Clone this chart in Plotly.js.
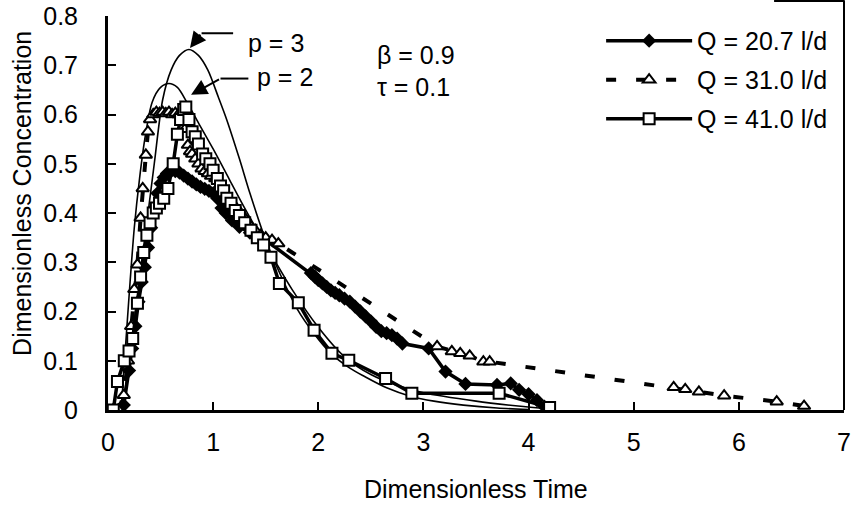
<!DOCTYPE html>
<html>
<head>
<meta charset="utf-8">
<script src="https://cdn.plot.ly/plotly-3.0.1.min.js"></script>
<style>html,body{margin:0;padding:0;background:#fff;}#chart{width:853px;height:511px;}</style>
</head>
<body>
<div id="chart"></div>
<script>
// Q = 20.7 l/d (diamonds)
const t207 = [0.05,0.10,0.15,0.20,0.23,0.26,0.29,0.32,0.35,0.38,0.41,0.44,0.47,0.50,0.53,0.56,0.60,0.64,0.68,0.72,0.76,0.80,0.84,0.88,0.92,0.96,1.00,1.04,1.08,1.12,1.18,1.25,1.35,1.50,1.93,1.97,2.00,2.04,2.08,2.12,2.16,2.20,2.25,2.30,2.35,2.40,2.45,2.50,2.55,2.60,2.65,2.70,2.75,2.80,3.05,3.21,3.40,3.70,3.83,3.91,4.00,4.08,4.15,4.19];
const c207 = [0,0,0.01,0.08,0.125,0.17,0.22,0.26,0.29,0.33,0.37,0.41,0.44,0.46,0.472,0.48,0.485,0.485,0.482,0.476,0.47,0.464,0.458,0.453,0.449,0.445,0.44,0.43,0.41,0.40,0.385,0.372,0.36,0.345,0.278,0.27,0.264,0.257,0.25,0.243,0.238,0.233,0.226,0.22,0.21,0.2,0.19,0.18,0.169,0.16,0.156,0.152,0.145,0.135,0.125,0.078,0.053,0.051,0.054,0.041,0.032,0.020,0.007,0.002];
// Q = 31.0 l/d (triangles)
const t310 = [0.10,0.15,0.19,0.22,0.25,0.28,0.31,0.33,0.36,0.38,0.40,0.43,0.46,0.49,0.52,0.55,0.58,0.61,0.64,0.67,0.70,0.73,0.76,0.78,0.80,0.83,0.86,0.89,0.92,0.95,0.98,1.02,1.06,1.10,1.14,1.18,1.22,1.26,1.30,1.35,1.40,1.45,1.50,1.56,1.62,3.13,3.27,3.35,3.44,3.57,3.63,5.38,5.49,5.62,5.86,6.36,6.62];
const c310 = [0,0.03,0.10,0.17,0.245,0.295,0.39,0.45,0.518,0.565,0.59,0.60,0.605,0.603,0.605,0.602,0.605,0.60,0.603,0.60,0.602,0.57,0.538,0.525,0.52,0.51,0.50,0.49,0.485,0.48,0.475,0.47,0.455,0.44,0.43,0.42,0.41,0.40,0.39,0.375,0.365,0.355,0.35,0.345,0.338,0.129,0.119,0.115,0.110,0.098,0.098,0.046,0.042,0.037,0.029,0.017,0.008];
// Q = 41.0 l/d (squares)
const t410 = [0.05,0.09,0.155,0.20,0.235,0.28,0.31,0.34,0.37,0.40,0.43,0.46,0.49,0.53,0.57,0.62,0.66,0.69,0.72,0.74,0.77,0.80,0.83,0.86,0.90,0.93,0.97,1.00,1.04,1.07,1.10,1.13,1.17,1.21,1.25,1.30,1.36,1.42,1.48,1.55,1.63,1.81,1.96,2.13,2.29,2.64,2.89,3.72,4.20];
const c410 = [0,0.058,0.10,0.12,0.145,0.217,0.27,0.32,0.355,0.38,0.40,0.41,0.42,0.43,0.45,0.50,0.56,0.59,0.61,0.615,0.59,0.565,0.555,0.54,0.52,0.51,0.50,0.487,0.47,0.455,0.445,0.43,0.42,0.405,0.395,0.38,0.365,0.35,0.335,0.31,0.257,0.218,0.162,0.115,0.101,0.064,0.034,0.034,0.005];
// Model curve p = 2
const tP2 = [0.10,0.12,0.15,0.18,0.21,0.25,0.30,0.35,0.42,0.50,0.58,0.66,0.75,0.86,1.00,1.15,1.30,1.50,1.75,2.00,2.25,2.50,2.75,3.00,3.50,3.90,4.20];
const cP2 = [0,0.005,0.08,0.17,0.26,0.37,0.47,0.55,0.625,0.655,0.663,0.655,0.625,0.583,0.53,0.47,0.41,0.335,0.245,0.168,0.108,0.072,0.05,0.035,0.018,0.008,0.002];
// Model curve p = 3
const tP3 = [0.10,0.15,0.20,0.25,0.30,0.36,0.44,0.52,0.60,0.68,0.77,0.86,0.95,1.05,1.13,1.25,1.35,1.50,1.65,1.80,1.96,2.12,2.30,2.44,2.65,2.89,3.10,3.38,3.70,4.00];
const cP3 = [0,0.03,0.10,0.18,0.27,0.365,0.50,0.63,0.69,0.72,0.732,0.72,0.69,0.635,0.589,0.51,0.44,0.345,0.27,0.205,0.155,0.115,0.085,0.068,0.045,0.027,0.018,0.010,0.004,0.001];

const seriesNames = ['Q = 20.7 l/d','Q = 31.0 l/d','Q = 41.0 l/d'];
const FONT = 'Liberation Sans, Arial, sans-serif';

const traces = [
  {x:tP2, y:cP2, mode:'lines', line:{color:'#000', width:1.6, shape:'spline', smoothing:0.8}, showlegend:false, hoverinfo:'skip'},
  {x:tP3, y:cP3, mode:'lines', line:{color:'#000', width:1.6, shape:'spline', smoothing:0.8}, showlegend:false, hoverinfo:'skip'},
  {x:t207, y:c207, name:seriesNames[0], legendgroup:'g1', mode:'lines+markers', line:{color:'#000', width:3.5},
   marker:{symbol:'diamond', size:11, color:'#000'}},
  {x:t310, y:c310, name:seriesNames[1], legendgroup:'g2', mode:'lines+markers', line:{color:'#000', width:4, dash:'10px,20px'},
   marker:{symbol:'triangle-up', size:11, color:'#fff', line:{color:'#000', width:2}}},
  {x:t410, y:c410, name:seriesNames[2], legendgroup:'g3', mode:'lines+markers', line:{color:'#000', width:3.5},
   marker:{symbol:'square', size:11, color:'#fff', line:{color:'#000', width:2}}}
];

const layout = {
  width:853, height:511,
  margin:{l:108, r:9, t:16, b:101},
  paper_bgcolor:'#fff', plot_bgcolor:'#fff',
  font:{family:FONT, size:25, color:'#000'},
  showlegend:true,
  legend:{x:0.67, y:0.995, xanchor:'left', yanchor:'top', bgcolor:'rgba(0,0,0,0)', font:{size:25}, itemwidth:86, tracegroupgap:3.5},
  xaxis:{range:[0,7], dtick:1, tick0:0, showgrid:false, zeroline:false, showline:true, linecolor:'#000', linewidth:3,
         ticks:'inside', ticklen:8, tickwidth:2, tickcolor:'#000', tickfont:{size:25}, ticklabelstandoff:8, ticklabeloverflow:'allow'},
  yaxis:{range:[0,0.8], dtick:0.1, tick0:0, showgrid:false, zeroline:false, showline:true, linecolor:'#000', linewidth:3,
         ticks:'inside', ticklen:8, tickwidth:2, tickcolor:'#000', tickfont:{size:25}, ticklabelstandoff:22,
         tickformat:'.1~f', ticklabeloverflow:'allow'},
  shapes:[
    {type:'line', xref:'paper', yref:'paper', x0:1, x1:1, y0:0, y1:1.04, line:{color:'#000', width:2}},
    {type:'line', xref:'paper', yref:'paper', x0:0.905, x1:1, y0:1.038, y1:1.038, line:{color:'#000', width:2}},
    {type:'line', xref:'x', yref:'y', x0:1.19, x1:0.89, y0:0.765, y1:0.765, line:{color:'#000', width:2}},
    {type:'line', xref:'x', yref:'y', x0:1.335, x1:1.07, y0:0.673, y1:0.673, line:{color:'#000', width:2}}
  ],
  annotations:[
    {xref:'paper', yref:'paper', x:0.5, y:-0.2, yanchor:'middle', text:'Dimensionless Time', showarrow:false, font:{size:25}},
    {xref:'paper', yref:'paper', x:-0.116, y:0.55, xanchor:'center', yanchor:'middle', text:'Dimensionless Concentration', textangle:-90, showarrow:false, font:{size:25}},
    {x:1.31, y:0.745, xanchor:'left', yanchor:'middle', text:'p = 3', showarrow:false, font:{size:25}},
    {x:1.40, y:0.676, xanchor:'left', yanchor:'middle', text:'p = 2', showarrow:false, font:{size:25}},
    {x:2.54, y:0.72, xanchor:'left', yanchor:'middle', text:'β = 0.9', showarrow:false, font:{size:25}},
    {x:2.54, y:0.656, xanchor:'left', yanchor:'middle', text:'τ = 0.1', showarrow:false, font:{size:25}},
    {x:0.78, y:0.735, ax:0.89, ay:0.765, axref:'x', ayref:'y', text:'', showarrow:true, arrowhead:2, arrowsize:1.6, arrowwidth:2, arrowcolor:'#000', standoff:0},
    {x:0.79, y:0.64, ax:1.07, ay:0.673, axref:'x', ayref:'y', text:'', showarrow:true, arrowhead:2, arrowsize:1.6, arrowwidth:2, arrowcolor:'#000', standoff:0}
  ]
};

Plotly.newPlot('chart', traces, layout, {staticPlot:true, displayModeBar:false});
</script>
</body>
</html>
